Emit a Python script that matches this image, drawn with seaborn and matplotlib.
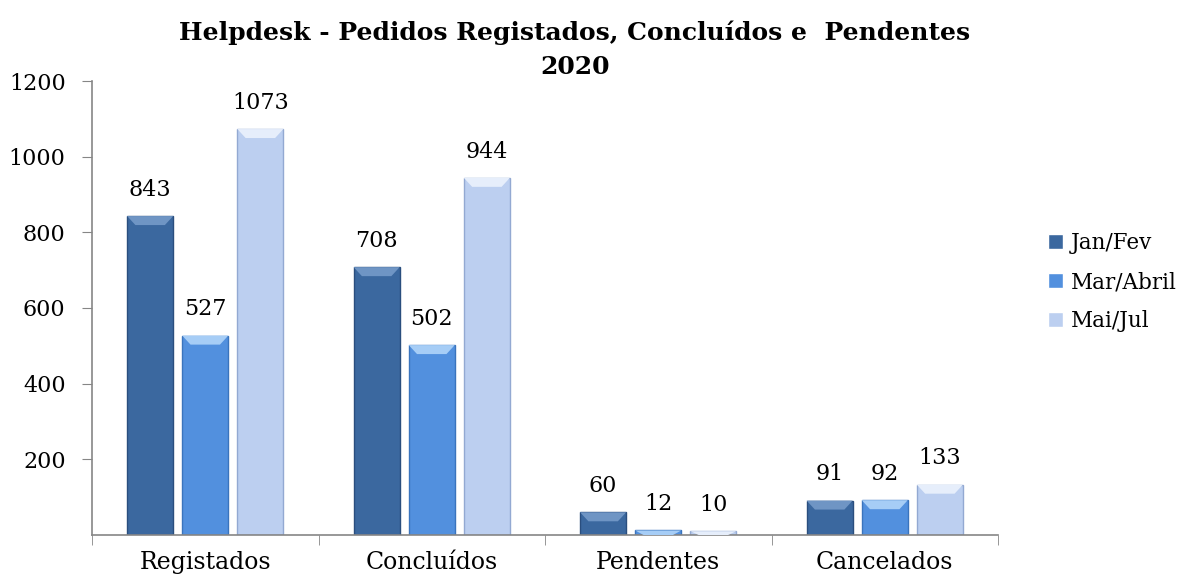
import matplotlib
matplotlib.use('Agg')
import matplotlib.pyplot as plt
from matplotlib.patches import Polygon
import seaborn as sns
import pandas as pd

# Data
categories = ['Registados', 'Concluídos', 'Pendentes', 'Cancelados']
periods = ['Jan/Fev', 'Mar/Abril', 'Mai/Jul']
jan_fev = [843, 708, 60, 91]
mar_abril = [527, 502, 12, 92]
mai_jul = [1073, 944, 10, 133]

colors = ['#3b689f', '#5290de', '#bccff0']
edges = ['#2a4e7e', '#3a74bd', '#93a9d2']
tops = ['#6f95c4', '#a6cdf6', '#e6eefb']

df = pd.DataFrame({
    'categoria': categories * 3,
    'periodo': [p for p in periods for _ in categories],
    'valor': jan_fev + mar_abril + mai_jul,
})

sns.set_style('white')
plt.rcParams['font.family'] = ['DejaVu Serif']
plt.rcParams['text.color'] = 'black'
plt.rcParams['xtick.labelcolor'] = 'black'
plt.rcParams['ytick.labelcolor'] = 'black'

fig = plt.figure(figsize=(11.88, 5.81), dpi=100)
ax = fig.add_axes([92 / 1188, (581 - 535) / 581, (998 - 92) / 1188, (535 - 81) / 581])

sns.barplot(data=df, x='categoria', y='valor', hue='periodo', palette=colors,
            width=0.73, gap=0.165, ax=ax, legend=True, saturation=1)

ax.set_ylim(0, 1200)
ax.set_xlim(-0.5, 3.5)

# small bevel on top of each bar (lighter trapezoid)
bevel = 1200 / 454 * 9
for container, ec, tc in zip(ax.containers, edges, tops):
    for bar in container:
        bar.set_edgecolor(ec)
        bar.set_linewidth(1.0)
        x0, w, h = bar.get_x(), bar.get_width(), bar.get_height()
        b = min(bevel, h)
        inset = w * 0.18
        ax.add_patch(Polygon([(x0, h), (x0 + w, h), (x0 + w - inset, h - b), (x0 + inset, h - b)],
                             closed=True, facecolor=tc, edgecolor='none', zorder=3))
    ax.bar_label(container, padding=11, fontsize=16, color='black')

ax.set_yticks([200, 400, 600, 800, 1000, 1200])
ax.set_xlabel('')
ax.set_ylabel('')
ax.tick_params(axis='y', labelsize=16, left=True, length=7, color='#868686', pad=12)
ax.tick_params(axis='x', labelsize=17, bottom=False, pad=8)
# ticks between the categories
ax.set_xticks([-0.5, 0.5, 1.5, 2.5, 3.5], minor=True)
ax.tick_params(axis='x', which='minor', bottom=True, length=7, color='#868686')

for side in ['top', 'right']:
    ax.spines[side].set_visible(False)
for side in ['left', 'bottom']:
    ax.spines[side].set_color('#868686')
    ax.spines[side].set_linewidth(1.2)

fig.text(575 / 1188, 1 - 33 / 581, 'Helpdesk - Pedidos Registados, Concluídos e  Pendentes',
         fontsize=18, fontweight='bold', ha='center', va='center', color='black')
fig.text(575 / 1188, 1 - 67 / 581, '2020', fontsize=18, fontweight='bold', ha='center', va='center',
         color='black')

leg = ax.legend(loc='center left', bbox_to_anchor=(1.055, 0.557), frameon=False,
                fontsize=15.5, handlelength=0.7, handleheight=0.7, handletextpad=0.35,
                labelspacing=0.78, borderaxespad=0, borderpad=0)

plt.savefig('out.png', dpi=100)
